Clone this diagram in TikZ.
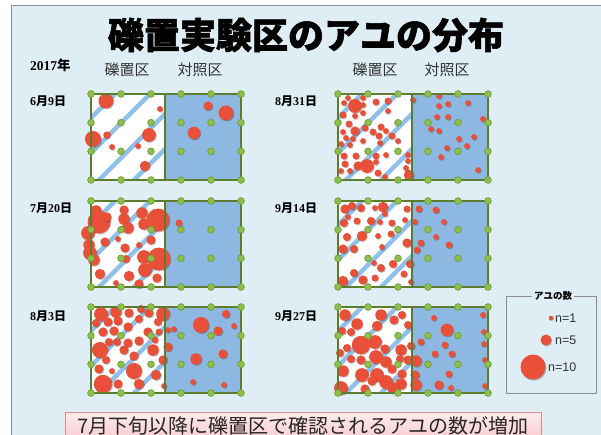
\documentclass[tikz,border=0pt]{standalone}
\usepackage{fontspec}
\setmainfont{Liberation Serif}
\setsansfont{Liberation Sans}
\newfontfamily\jpfont{Noto Sans CJK JP}
\newfontfamily\titlefont{Noto Sans CJK JP}[BoldFeatures={FakeBold=1.6}]

\definecolor{bgblue}{HTML}{DFEEF4}
\definecolor{ctrlblue}{HTML}{8DB8E2}
\definecolor{stripeblue}{HTML}{8EC0EA}
\definecolor{ayured}{HTML}{E8503A}
\definecolor{fieldgreen}{HTML}{5C7C2E}
\definecolor{dotgreen}{HTML}{8CBF4B}
\definecolor{dotrim}{HTML}{6C9A35}
\definecolor{framegray}{HTML}{8C8C8C}
\definecolor{bannerpink}{HTML}{F9CDD1}
\definecolor{bannerrim}{HTML}{E08A90}

\tikzset{
  stripeline/.style={stripeblue, line width=4.5pt},
  ayudot/.style={ayured},
  ayushadow/.style={black, opacity=0.25},
  fieldline/.style={fieldgreen, line width=1.4pt},
  greendot/.style={fill=dotgreen, draw=dotrim, line width=0.6pt},
  datelabel/.style={anchor=west, inner sep=0pt, font=\bfseries\fontsize{12}{12}\selectfont},
  zonelabel/.style={inner sep=0pt, text=black!80, font=\jpfont\fontsize{15}{15}\selectfont},
  legendtext/.style={anchor=west, inner sep=0pt, text=black!80, font=\sffamily\fontsize{12.5}{12.5}\selectfont}
}

\newcommand{\datetext}[2]{#1{\jpfont 月}#2{\jpfont 日}}

% one survey: gravel half, control half, fish and grid posts
\newcommand{\fieldpanel}[3]{%
  \begin{scope}[shift={(#1,#2)}]
    \fill[white] (0,0) rectangle (74,86);
    \fill[ctrlblue] (74,0) rectangle (150,86);
    \begin{scope}
      \clip (0,0) rectangle (74,86);
      \foreach \c in {24,59,94,129}
        \draw[stripeline] (\c+20,-20) -- (\c-106,106);
    \end{scope}
    \foreach \px/\py/\pr in {#3} {
      \fill[ayushadow] (\px+0.8,\py+0.9) circle ({1.15*\pr pt});
      \fill[ayudot] (\px,\py) circle ({1.15*\pr pt});
    }
    \draw[fieldline] (0,0) rectangle (150,86) (74,0) -- (74,86);
    \foreach \gx in {0,30,...,150}
      \foreach \gy in {0,28.67,57.33,86}
        \filldraw[greendot] (\gx,\gy) circle (3.4pt);
  \end{scope}}

\begin{document}
\begin{tikzpicture}[x=1pt, y=-1pt]
  \useasboundingbox (0,0) rectangle (601,435);
  \fill[white] (0,0) rectangle (601,435);
  \fill[bgblue] (11,5) rectangle (601,435);
  \draw[framegray, line width=0.8pt] (11,440) -- (11,5) -- (610,5);

  % Title and headers
  \node[font=\titlefont\bfseries\fontsize{36}{36}\selectfont, inner sep=0pt] (title) at (306,35) {礫置実験区のアユの分布};
  \node[datelabel, font=\bfseries\fontsize{13.5}{13.5}\selectfont] (year) at (30,65) {2017{\jpfont 年}};
  \node[zonelabel] (gravelA) at (127,70) {礫置区};
  \node[zonelabel] (controlA) at (200,70) {対照区};
  \node[zonelabel] (gravelB) at (375,70) {礫置区};
  \node[zonelabel] (controlB) at (447,70) {対照区};

  % Survey dates
  \node[datelabel] (d0609) at (30,101) {\datetext{6}{9}};
  \node[datelabel] (d0720) at (30,208) {\datetext{7}{20}};
  \node[datelabel] (d0803) at (30,316) {\datetext{8}{3}};
  \node[datelabel] (d0831) at (275,101) {\datetext{8}{31}};
  \node[datelabel] (d0914) at (275,208) {\datetext{9}{14}};
  \node[datelabel] (d0927) at (275,316) {\datetext{9}{27}};

  % 6/9
  \fieldpanel{91}{94}{15/7/6.5, 69/15/2.5, 2/45/7, 16/41/3.2, 21/53/2.5, 58/41/6,
    47/52/2.5, 54/72/4.5, 117/12/4, 135/19/6.5, 103/39/5.5}
  % 7/20
  \fieldpanel{91}{201}{5/10/5, 8/21/10, 16/16/4, -3/32/6, -2/44/5, -1/52/6, 3/59/5,
    14/41/4, 33/9/4, 33/18/5, 37/27/5, 27/38/2.5, 34/47/4, 35/58/3.5, 9/73/4.5,
    38/75/4.5, 25/82/2.5, 48/83/4, 51/12/5, 53/23/5, 67/19/10, 60/39/4, 48/44/2.5,
    53/56/6, 68/58/10, 54/69/6, 66/77/4, 88/22/3}
  % 8/3
  \fieldpanel{91}{307}{10/7/6, 25/5/5, 38/6/4, 50/2/3.5, 58/6/4, 72/7/6, 5/16/3.5,
    17/15/4, 27/14/4, 37/20/4, 48/12/3.5, 57/25/4, 67/15/3.5, 68/25/3, 77/23/2.5,
    83/22/2.5, 12/25/4, 23/24/4, 18/35/3.5, 26/35/3.5, 37/36/4, 48/34/4, 64/33/3,
    77/40/4, 9/43/7, 33/43/4, 43/49/4, 62/43/5, 15/53/3.5, 72/53/4, 8/62/4,
    21/64/2.5, 43/64/7, 65/68/4.5, 12/77/8, 27/77/4, 48/77/4.5, 73/79/2.5,
    110/18/7, 135/7/3.5, 127/24/4, 143/19/2.5, 105/52/5, 132/47/4, 102/75/2.5, 133/78/2.5}
  % 8/31
  \fieldpanel{338}{94}{17/12/6, 6/9/2.5, 10/4/2.5, 25/4/2.5, 25/11/2.5, 38/8/3, 50/7/3,
    5/21/3, 17/22/2.5, 25/19/2.5, 50/17/2.5, 75/6/2.5, 11/30/3, 17/37/4, 27/34/3,
    5/38/2.5, 35/38/3, 43/33/3, 48/37/2.5, 8/44/2.5, 15/45/2.5, 25/47/2.5, 41/42/3,
    54/42/3, 3/50/2.5, 12/51/2.5, 42/49/2.5, 60/47/2.5, 6/62/3, 18/62/3, 38/62/3,
    48/61/2.5, 70/61/2.5, 7/70/3, 28/69/2.5, 38/68/2.5, 70/67/2.5, 20/72/4, 29/72/6,
    3/77/2.5, 12/77/2.5, 40/79/3, 47/83/2.5, 71/81/4.5, 68/74/2.5,
    101/2/2.5, 101/12/2.5, 110/10/2.5, 130/9/2.5, 99/23/2.5, 110/23/2.5, 145/25/2.5,
    93/35/2.5, 101/37/2.5, 121/45/2.5, 136/43/2.5, 109/54/2.5, 129/52/2.5, 103/63/2.5,
    140/76/2.5}
  % 9/14
  \fieldpanel{338}{201}{7/8/4, 14/5/3.5, 23/7/3.5, 10/16/2.5, 37/7/2.5, 45/6/4.5,
    47/13/2.5, 69/8/3, 6/22/3.5, 19/20/3, 33/20/3.5, 42/21/2.5, 54/22/3, 67/19/2.5,
    9/36/3.5, 24/35/4.5, 40/35/2.5, 53/33/3, 69/42/4, 44/46/2.5, 5/48/4, 16/48/3.5,
    36/62/2.5, 43/67/3.5, 55/63/3.5, 72/63/3.5, 16/72/3.5, 37/77/3, 66/73/3,
    5/80/4.5, 25/79/4, 73/81/2.5,
    81/8/3, 98/9/3, 77/21/2.5, 106/21/2.5, 98/36/2.5, 83/42/3, 111/44/3, 79/49/3}
  % 9/27
  \fieldpanel{338}{307}{7/8/5, 19/17/5, 43/8/5, 56/13/4, 64/8/3.5, 39/19/4.5, 70/18/3.5,
    4/24/3.5, 13/25/3.5, 23/38/8, 9/41/3.5, 37/35/6, 47/42/4, 63/43/5, 73/39/3.5,
    2/46/3.5, 13/52/3.5, 23/53/4, 38/50/6, 48/55/5, 62/52/3.5, 70/53/4, 5/64/5,
    24/68/6, 39/68/6, 54/62/4, 64/67/4, 34/74/4, 48/75/6, 63/77/5, 3/81/6, 27/82/4,
    55/81/5, 78/54/5, 77/68/4, 78/78/5,
    96/11/2.5, 145/8/2.5, 109/23/5.5, 146/25/2.5, 83/35/3, 107/38/3, 146/37/2.5,
    97/47/3, 114/47/3, 147/53/2.5, 111/67/3, 101/78/4, 113/81/2.5, 147/79/2.5}

  % Legend
  \draw[framegray, line width=0.6pt] (506,296) rectangle (596,393);
  \node[fill=bgblue, inner sep=2pt, font=\jpfont\bfseries\fontsize{9.5}{9.5}\selectfont] (legtitle) at (553,296) {アユの数};
  \fill[ayushadow] (551.6,318.6) circle (2.3pt);
  \fill[ayudot] (551,318) circle (2.3pt);
  \node[legendtext] (n1) at (555,318) {n=1};
  \fill[ayushadow] (546.8,340.9) circle (5.5pt);
  \fill[ayudot] (546,340) circle (5.5pt);
  \node[legendtext] (n5) at (555,340) {n=5};
  \fill[ayushadow] (534,368.2) circle (12.5pt);
  \fill[ayudot] (533,367) circle (12.5pt);
  \node[legendtext] (n10) at (548,367) {n=10};

  % Summary banner
  \node[anchor=north west, draw=bannerrim, line width=0.8pt, top color=bannerpink!40, bottom color=bannerpink,
    minimum width=476pt, minimum height=26pt, inner sep=0pt, text=black!85,
    font=\jpfont\fontsize{20}{20}\selectfont] (summary) at (65,412) {7月下旬以降に礫置区で確認されるアユの数が増加};
\end{tikzpicture}
\end{document}
